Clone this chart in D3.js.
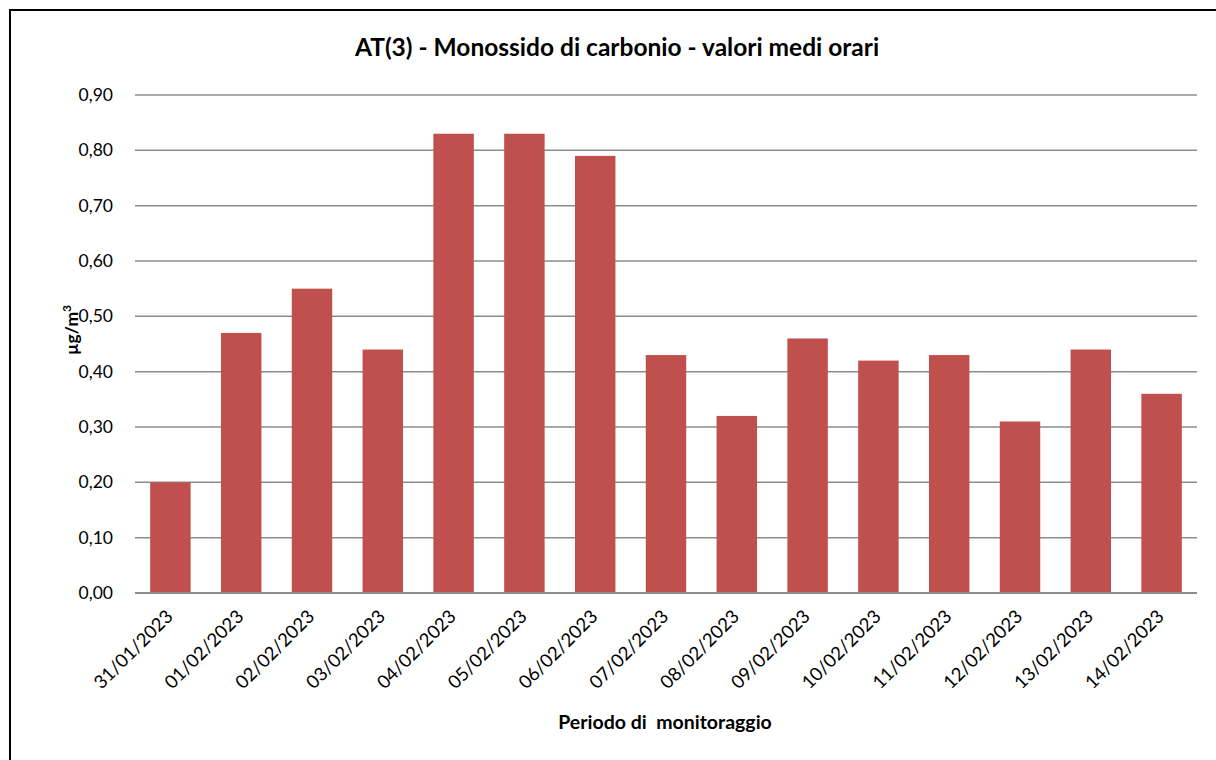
<!DOCTYPE html>
<html><head><meta charset="utf-8">
<script src="https://cdn.jsdelivr.net/npm/d3@7"></script>
<style>body{margin:0;background:#fff}svg{display:block}text{font-family:Lato,"Open Sans",sans-serif}</style>
</head><body><svg id="c" width="1216" height="760"></svg>
<script>
const categories=["31/01/2023","01/02/2023","02/02/2023","03/02/2023","04/02/2023","05/02/2023","06/02/2023","07/02/2023","08/02/2023","09/02/2023","10/02/2023","11/02/2023","12/02/2023","13/02/2023","14/02/2023"];
const values=[0.20,0.47,0.55,0.44,0.83,0.83,0.79,0.43,0.32,0.46,0.42,0.43,0.31,0.44,0.36];
const yTicks=[0,0.1,0.2,0.3,0.4,0.5,0.6,0.7,0.8,0.9];
const title="AT(3) - Monossido di carbonio - valori medi orari";
const xTitle="Periodo di  monitoraggio";

const svg=d3.select("#c");
svg.append("rect").attr("x",10).attr("y",10).attr("width",1230).attr("height",800).attr("fill","none").attr("stroke","#000").attr("stroke-width",2);
const L=135,R=1197,T=95,B=593;
const x=d3.scaleBand().domain(categories).range([L,R]).paddingInner(0.4286).paddingOuter(0.2143);
const y=d3.scaleLinear().domain([0,0.9]).range([B,T]);
const fmt=d=>d3.format(".2f")(d).replace(".",",");
const g=svg.append("g");
g.selectAll("line.grid").data(yTicks).join("line").attr("x1",L).attr("x2",R).attr("y1",d=>y(d)).attr("y2",d=>y(d)).attr("stroke","#8c8c8c").attr("stroke-width",1.5);
g.selectAll("rect.bar").data(values).join("rect").attr("x",(d,i)=>x(categories[i])).attr("width",x.bandwidth()).attr("y",d=>y(d)).attr("height",d=>B-y(d)).attr("fill","#C0504D");
g.append("line").attr("x1",L).attr("x2",R).attr("y1",B).attr("y2",B).attr("stroke","#8c8c8c").attr("stroke-width",2);
g.selectAll("text.yt").data(yTicks).join("text").attr("x",113).attr("y",d=>y(d)).attr("dy","0.35em").attr("text-anchor","end").attr("font-size",17.5).text(fmt);
g.selectAll("text.xt").data(categories).join("text").attr("text-anchor","end").attr("font-size",18.5)
 .attr("transform",d=>`translate(${x(d)+x.bandwidth()/2-1},${B+20}) rotate(-45)`).attr("dy","0.35em").text(d=>d);
svg.append("text").attr("x",617).attr("y",56).attr("text-anchor","middle").attr("font-size",24.5).attr("font-weight","bold").text(title);
svg.append("text").attr("x",665).attr("y",729).attr("text-anchor","middle").attr("font-size",19.5).attr("font-weight","bold").style("white-space","pre").text(xTitle);
const yl=svg.append("text").attr("transform","translate(78,330) rotate(-90)").attr("text-anchor","middle").attr("font-size",17.5).attr("font-weight","bold");
yl.append("tspan").text("µg/m");
yl.append("tspan").attr("font-size",12).attr("dy","-7").text("3");
</script></body></html>
